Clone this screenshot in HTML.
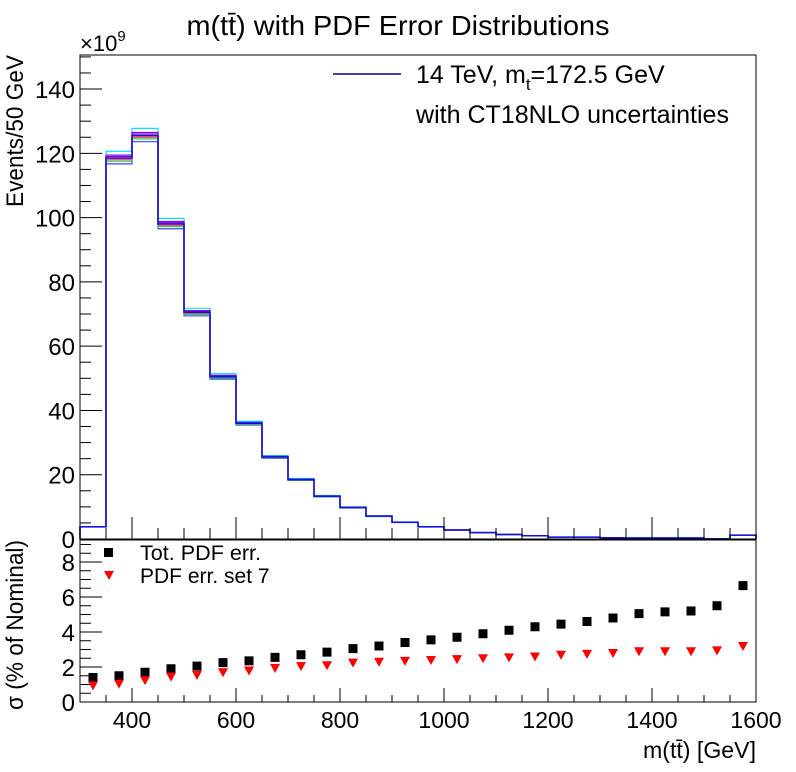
<!DOCTYPE html>
<html><head><meta charset="utf-8"><style>
html,body{margin:0;padding:0;background:#fff;}
svg{display:block;font-family:"Liberation Sans","DejaVu Sans",sans-serif;}
</style></head><body>
<svg id="chart" width="796" height="772" viewBox="0 0 796 772">
<text x="398" y="35" font-size="28" text-anchor="middle" textLength="423" lengthAdjust="spacingAndGlyphs">m(tt̄) with PDF Error Distributions</text>
<text x="80" y="51" font-size="22">×10<tspan font-size="15" dy="-10">9</tspan></text>
<text transform="translate(23,55) rotate(-90)" font-size="24" text-anchor="end" textLength="152" lengthAdjust="spacingAndGlyphs">Events/50 GeV</text>
<text transform="translate(23,540) rotate(-90)" font-size="24" text-anchor="end" textLength="170" lengthAdjust="spacingAndGlyphs">σ (% of Nominal)</text>
<text x="756" y="758" font-size="23" text-anchor="end" textLength="113" lengthAdjust="spacingAndGlyphs">m(tt̄) [GeV]</text>
<g>
<line x1="333" y1="74" x2="401" y2="74" stroke="#00008b" stroke-width="1.5"/>
<text x="416" y="83" font-size="25">14 TeV, m<tspan font-size="17" dy="7">t</tspan><tspan dy="-7">=172.5 GeV</tspan></text>
<text x="416" y="123" font-size="25" textLength="313" lengthAdjust="spacingAndGlyphs">with CT18NLO uncertainties</text>
</g>
<g>
<rect x="104" y="548" width="9" height="9" fill="#000"/>
<text x="140" y="560" font-size="21" textLength="121" lengthAdjust="spacingAndGlyphs">Tot. PDF err.</text>
<path d="M104,571 L114,571 L109,580 Z" fill="#f00"/>
<text x="140" y="583" font-size="21">PDF err. set 7</text>
</g>
<g id="plot"></g>
</svg>
<script>
const binEdgesLow = [300,350,400,450,500,550,600,650,700,750,800,850,900,950,1000,1050,1100,1150,1200,1250,1300,1350,1400,1450,1500,1550];
const nominal = [3.8,118.5,125.5,98,70.5,50.5,36,25.5,18.5,13.3,9.8,7.1,5.2,3.8,2.8,2.0,1.4,1.0,0.6,0.6,0.4,0.3,0.3,0.3,0.05,1.2];
const variationScale = [1.018,1.008,0.996,0.985,1.004,0.992];
const variationColors = ["#00e5ff","#8000ff","#ff4040","#4040ff","#9000c0","#33cc33"];
const totErr = [1.4,1.5,1.7,1.9,2.05,2.25,2.35,2.55,2.7,2.85,3.05,3.2,3.4,3.55,3.7,3.9,4.1,4.3,4.45,4.6,4.8,5.05,5.15,5.2,5.5,6.65];
const set7Err = [0.95,1.05,1.25,1.45,1.55,1.7,1.8,1.95,2.05,2.1,2.25,2.3,2.35,2.4,2.45,2.5,2.55,2.6,2.7,2.75,2.8,2.9,2.9,2.9,2.95,3.2];
const xTicks = [400,600,800,1000,1200,1400,1600];
const yTicks = [0,20,40,60,80,100,120,140];
const rTicks = [0,2,4,6,8];
const binW = 50;

const NS="http://www.w3.org/2000/svg";
const g=document.getElementById('plot');
const X0=80,X1=756, xMin=300,xMax=1600;
const xs=v=>X0+(v-xMin)*(X1-X0)/(xMax-xMin);
const TY0=539,TY1=55, yMax=(539-55)/3.214;
const ys=v=>TY0-v*3.214;
const RY0=702,RY1=540;
const rs=v=>RY0-v*17.5;
function mk(tag,attrs){const e=document.createElementNS(NS,tag);for(const k in attrs)e.setAttribute(k,attrs[k]);g.appendChild(e);return e;}

function histPath(vals,scale){
  let d=`M${xs(binEdgesLow[0])},${ys(0)}`;
  vals.forEach((v,i)=>{const y=ys(v*scale);d+=` L${xs(binEdgesLow[i])},${y} L${xs(binEdgesLow[i]+binW)},${y}`;});
  d+=` L${xs(binEdgesLow[vals.length-1]+binW)},${ys(0)}`;
  return d;
}
variationScale.forEach((s,j)=>{
  const p=mk('path',{d:histPath(nominal,s),fill:'none',stroke:variationColors[j],'stroke-width':1.2});
  
  
});
const pn=mk('path',{d:histPath(nominal,1),fill:'none',stroke:'#1010e0','stroke-width':1.5});



const f1=mk('rect',{x:X0,y:TY1,width:X1-X0,height:TY0-TY1,fill:'none',stroke:'#000','stroke-width':1});


const f2=mk('rect',{x:X0,y:RY1,width:X1-X0,height:RY0-RY1,fill:'none',stroke:'#000','stroke-width':1});



for(let v=xMin;v<=xMax;v+=50){
  const major=v%200===0; const L=major?22:11;
  const t1=mk('line',{x1:xs(v),x2:xs(v),y1:TY0,y2:TY0-L,stroke:'#000'});
  
  
  const t2=mk('line',{x1:xs(v),x2:xs(v),y1:RY0,y2:RY0-(major?14:7),stroke:'#000'});
  
  
}
xTicks.forEach(v=>{
  const t=mk('text',{x:xs(v),y:728,'font-size':23,'text-anchor':'middle'});t.textContent=v;
  
  
});
for(let v=0;v<=yMax;v+=5){
  const major=v%20===0;
  const t=mk('line',{x1:X0,x2:X0+(major?22:11),y1:ys(v),y2:ys(v),stroke:'#000'});
  
  
}
yTicks.forEach(v=>{
  const t=mk('text',{x:75,y:ys(v)+9,'font-size':24,'text-anchor':'end'});t.textContent=v;
  
  
});
for(let v=0;v<=9.2;v+=0.5){
  const major=Math.abs(v%2)<1e-6;
  const t=mk('line',{x1:X0,x2:X0+(major?22:11),y1:rs(v),y2:rs(v),stroke:'#000'});
  
  
}
rTicks.forEach(v=>{
  const t=mk('text',{x:75,y:rs(v)+9,'font-size':24,'text-anchor':'end'});t.textContent=v;
  
  
});
totErr.forEach((v,i)=>{
  const cx=xs(binEdgesLow[i]+binW/2), cy=rs(v);
  const r=mk('rect',{x:cx-4.5,y:cy-4.5,width:9,height:9,fill:'#000'});
  
  
});
set7Err.forEach((v,i)=>{
  const cx=xs(binEdgesLow[i]+binW/2), cy=rs(v);
  const p=mk('path',{d:`M${cx-5},${cy-4} L${cx+5},${cy-4} L${cx},${cy+5} Z`,fill:'#f00'});
  
  
});
</script>
</body></html>
